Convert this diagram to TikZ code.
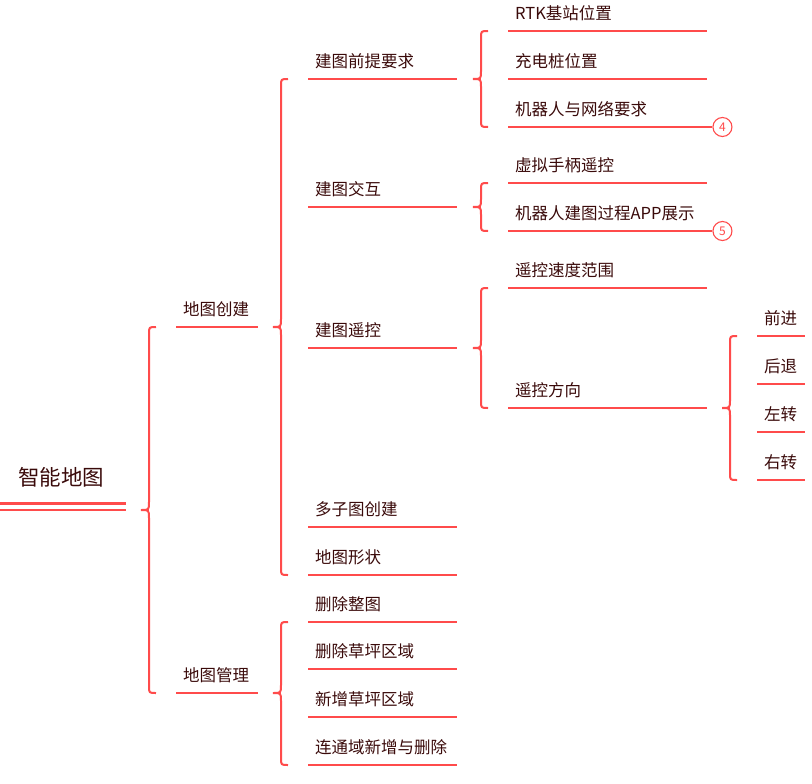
\documentclass[tikz,border=0pt]{standalone}
\usepackage{fontspec}
\setmainfont{Noto Sans CJK SC}
\usetikzlibrary{calc}
\definecolor{mmred}{HTML}{FF4B4B}
\definecolor{mmtext}{HTML}{3A0A0A}
\tikzset{
  topic/.style={anchor=south west, inner xsep=7pt, inner ysep=0pt, text height=13pt,
    text depth=11pt, align=left, text=mmtext, font=\fontsize{16.5}{18}\selectfont},
  lvA/.style={topic, text width=68pt},
  lvB/.style={topic, text width=135pt},
  lvC/.style={topic, text width=185pt},
  lvD/.style={topic, text width=34pt},
  ln/.style={draw=mmred, line width=2.2pt},
  brc/.style={draw=mmred, line width=2pt},
  badge/.style={circle, draw=mmred, line width=1.1pt, fill=white, minimum size=19pt,
    inner sep=0pt, text=mmred, font=\fontsize{12}{12}\selectfont}
}
% curly brace from first to last child, tip level with the parent's line
\newcommand\mmbrace[3]{%
  \draw[brc] let \p1=(#1.south west), \p2=(#2.south west), \p3=(#3.south) in
    (\x1-20pt,\y1) .. controls (\x1-27pt,\y1) .. (\x1-27pt,\y1-7pt)
    -- (\x1-27pt,\y3+8pt) .. controls (\x1-27pt,\y3) .. (\x1-35pt,\y3)
    .. controls (\x1-27pt,\y3) .. (\x1-27pt,\y3-8pt)
    -- (\x1-27pt,\y2+7pt) .. controls (\x1-27pt,\y2) .. (\x1-20pt,\y2);}

\begin{document}
\begin{tikzpicture}[x=1pt,y=-1pt]
  \useasboundingbox (0,0) rectangle (812,784);
  % root
  \node[topic, inner xsep=18pt, text width=90pt, text height=18pt, text depth=24pt,
    font=\fontsize{21.5}{24}\selectfont] (root) at (0,510) {智能地图};
  \draw[draw=mmred, line width=2.2pt, double=white, double distance=4.4pt]
    ([yshift=3.3pt]root.south west) -- ([yshift=3.3pt]root.south east);
  % level 1
  \foreach \nm/\y/\t in {mapc/327/地图创建, mapm/693/地图管理}
    \node[lvA] (\nm) at (176,\y) {\t};
  % level 2
  \foreach \nm/\y/\t in {pre/79/建图前提要求, inter/207/建图交互, tele/348/建图遥控,
      multi/527/多子图创建, shape/575/地图形状, del/622/删除整图,
      dlawn/669/删除草坪区域, alawn/717/新增草坪区域, conn/765/连通域新增与删除}
    \node[lvB] (\nm) at (308,\y) {\t};
  % level 3
  \foreach \nm/\y/\t in {rtk/31/RTK基站位置, dock/79/充电桩位置, net/127/机器人与网络要求,
      pad/183/虚拟手柄遥控, app/231/机器人建图过程APP展示, speed/288/遥控速度范围,
      dir/408/遥控方向}
    \node[lvC] (\nm) at (508,\y) {\t};
  % level 4
  \foreach \nm/\y/\t in {fwd/336/前进, bwd/384/后退, turnl/432/左转, turnr/480/右转}
    \node[lvD] (\nm) at (757,\y) {\t};
  % underlines
  \foreach \nm in {mapc,mapm,pre,inter,tele,multi,shape,del,dlawn,alawn,conn,
      rtk,dock,net,pad,app,speed,dir,fwd,bwd,turnl,turnr}
    \draw[ln] (\nm.south west) -- (\nm.south east);
  % badges
  \node[badge, anchor=west] (b4) at ([xshift=5pt]net.south east) {4};
  \node[badge, anchor=west] (b5) at ([xshift=5pt]app.south east) {5};
  \draw[ln] (net.south east) -- (b4.west);
  \draw[ln] (app.south east) -- (b5.west);
  % braces
  \mmbrace{mapc}{mapm}{root}
  \mmbrace{pre}{shape}{mapc}
  \mmbrace{del}{conn}{mapm}
  \mmbrace{rtk}{net}{pre}
  \mmbrace{pad}{app}{inter}
  \mmbrace{speed}{dir}{tele}
  \mmbrace{fwd}{turnr}{dir}
\end{tikzpicture}
\end{document}
